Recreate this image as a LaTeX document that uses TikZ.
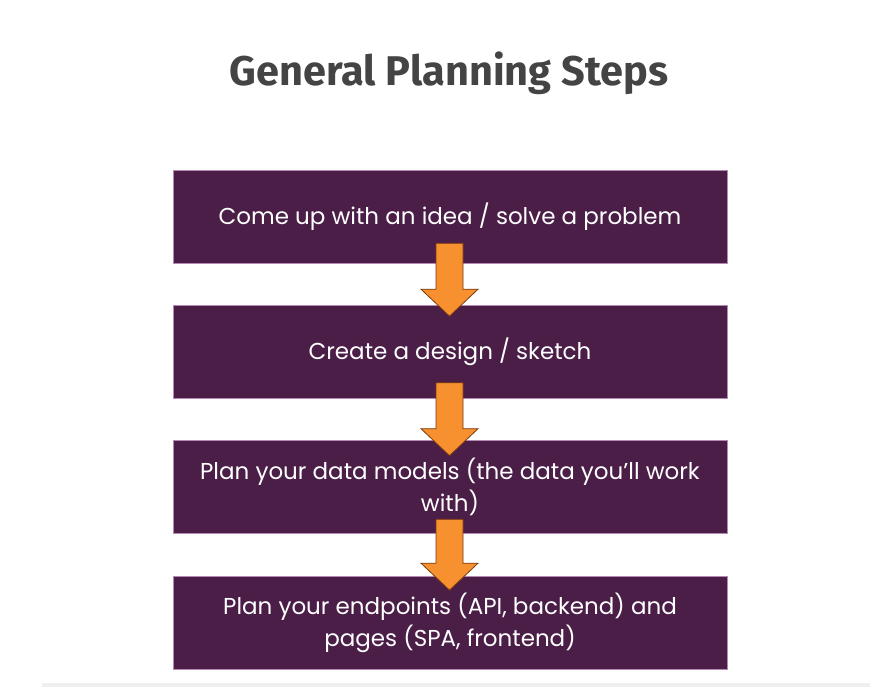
\documentclass[tikz,border=0pt]{standalone}
\usepackage{fontspec}
\setmainfont{Poppins}
\newfontfamily\titlefont{Fira Sans}
\usetikzlibrary{calc}
\definecolor{boxpurple}{HTML}{4A1E47}
\definecolor{boxedge}{HTML}{B48AB4}
\definecolor{arroworange}{HTML}{F7902F}
\definecolor{arrowedge}{HTML}{7A3A10}
\definecolor{titlegray}{HTML}{444444}
\definecolor{bargray}{HTML}{EFEFEF}
\tikzset{
  stepbox/.style={draw=boxedge, line width=0.6pt, fill=boxpurple, text=white,
    minimum width=554pt, minimum height=93pt, inner sep=0pt, align=center,
    font=\fontsize{23}{32}\selectfont},
  flowarrow/.style={fill=arroworange, draw=arrowedge, line width=0.8pt, line join=miter}
}
\newcommand{\downarrowshape}[3]{%
  % #1 start coordinate, #2 end coordinate (tip), #3 unused
  \draw[flowarrow] ($(#1)+(-13.5,0)$) -- ($(#1)+(13.5,0)$) -- ($(#2)+(13.5,-27)$)
    -- ($(#2)+(28.5,-27)$) -- (#2) -- ($(#2)+(-28.5,-27)$) -- ($(#2)+(-13.5,-27)$) -- cycle;
}
\begin{document}
\begin{tikzpicture}[x=1pt,y=-1pt]
\useasboundingbox (0,0) rectangle (886,687);
\fill[white] (0,0) rectangle (886,687);
\fill[bargray] (42,683) rectangle (870,687);
\node[anchor=base, text=titlegray, font=\titlefont\bfseries\fontsize{41.5}{44}\selectfont] (title) at (449,86) {General Planning Steps};
\node[stepbox] (b1) at (450,216.5) {Come up with an idea / solve a problem};
\node[stepbox] (b2) at (450,352) {Create a design / sketch};
\node[stepbox] (b3) at (450,486.5) {Plan your data models (the data you’ll work\\with)};
\node[stepbox] (b4) at (450,623) {Plan your endpoints (API, backend) and\\pages (SPA, frontend)};
\coordinate (a1s) at ($(b1.south)+(-0.5,-20)$);
\coordinate (a1e) at ($(b2.north)+(-0.5,11)$);
\coordinate (a2s) at ($(b2.south)+(-0.5,-16)$);
\coordinate (a2e) at ($(b3.north)+(-0.5,16)$);
\coordinate (a3s) at ($(b3.south)+(-0.5,-14)$);
\coordinate (a3e) at ($(b4.north)+(-0.5,14)$);
\downarrowshape{a1s}{a1e}{}
\downarrowshape{a2s}{a2e}{}
\downarrowshape{a3s}{a3e}{}
\end{tikzpicture}
\end{document}
